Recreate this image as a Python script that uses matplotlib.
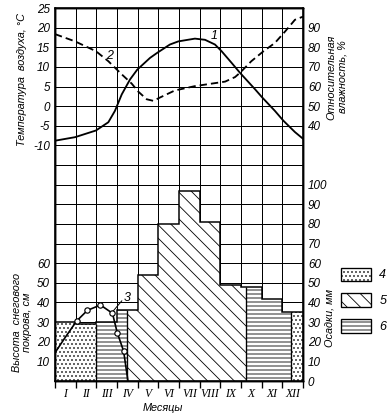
import numpy as np
import matplotlib
matplotlib.use('Agg')
from matplotlib import pyplot as plt
from matplotlib.patches import Patch

plt.rcParams['axes.unicode_minus'] = False
plt.rcParams['hatch.linewidth'] = 0.5
plt.rcParams['font.family'] = ['Liberation Sans', 'DejaVu Sans']
plt.rcParams['font.style'] = 'italic'
plt.rcParams['font.size'] = 7

months = ['I', 'II', 'III', 'IV', 'V', 'VI', 'VII', 'VIII', 'IX', 'X', 'XI', 'XII']

# precipitation per month, mm, and shares of solid / mixed / liquid
precip = [30, 29, 30, 36, 54, 80, 97, 81, 49, 48, 42, 35]
snow_part = [1, 1, 0, 0, 0, 0, 0, 0, 0, 0, 0, 0.58]
mixed_part = [0, 0, 1, 0.48, 0, 0, 0, 0, 0, 0.75, 1, 0.42]
rain_part = [0, 0, 0, 0.52, 1, 1, 1, 1, 1, 0.25, 0, 0]

# 1 - air temperature, C (x in months from start of January)
temp_x = [0.0, 0.97, 1.98, 2.58, 2.9, 3.23, 3.63, 3.98, 4.6, 4.95, 5.56, 5.97,
          6.77, 7.26, 7.74, 8.06, 8.55, 8.95, 9.68, 10.03, 10.64, 11.05, 11.61, 12.0]
temp_y = [-8.8, -7.9, -6.2, -4.1, -1.2, 3.0, 6.8, 9.3, 12.3, 13.6, 15.7, 16.5,
          17.2, 16.9, 15.7, 14.0, 11.0, 8.5, 4.3, 2.2, -1.2, -3.7, -6.6, -8.3]

# 2 - relative humidity, %
hum_x = [0.0, 0.97, 1.98, 2.58, 3.23, 3.71, 4.03, 4.44, 4.76, 5.08, 5.8,
         6.77, 8.23, 8.71, 8.95, 9.5, 10.08, 10.64, 11.13, 11.61, 12.0]
hum_y = [86.7, 83, 78, 72.9, 66.2, 61.5, 57.4, 53.5, 52.7, 54.4, 58,
         60.2, 62.5, 64.8, 67, 72.9, 77.9, 82.2, 88, 94, 95.6]

# 3 - snow depth, cm
snow_x = [0.0, 0.48, 1.05, 1.57, 2.2, 2.78, 3.01, 3.32, 3.53]
snow_y = [14.4, 22, 30.6, 36, 38.7, 34.5, 24.7, 15.2, 0]

fig = plt.figure(figsize=(388 / 120, 417 / 120), dpi=120)
ax = fig.add_axes([55 / 388, 36 / 417, 248 / 388, 373 / 417])
ax_s = ax.twinx()
ax_t = ax.twinx()
ax_h = ax.twinx()

# bars
styles = {'snow': '.....', 'mixed': '-----', 'rain': '\\\\\\'}
parts = {'snow': snow_part, 'mixed': mixed_part, 'rain': rain_part}
segs = {k: ([], [], []) for k in styles}
bounds = []
prev = None
prev_h = 0
for i in range(12):
    order = ['snow', 'mixed', 'rain'] if i < 6 else ['rain', 'mixed', 'snow']
    left = i
    for kind in order:
        w = parts[kind][i]
        if w <= 0:
            continue
        segs[kind][0].append(left)
        segs[kind][1].append(w)
        segs[kind][2].append(precip[i])
        if prev is not None and prev != kind:
            bounds.append((left, min(prev_h, precip[i])))
        prev, prev_h = kind, precip[i]
        left += w

for kind, (lefts, widths, heights) in segs.items():
    ax.bar(lefts, heights, widths, align='edge', facecolor='white', edgecolor='k',
           linewidth=0, hatch=styles[kind], zorder=2)
for bx, bh in bounds:
    ax.vlines(bx, 0, bh, color='k', lw=0.8, zorder=3)
ax.stairs(precip, np.arange(13), baseline=None, color='k', lw=0.9, zorder=3)

ax.set_xlim(0, 12)
ax.set_ylim(0, 190)
ax.set_xticks(np.arange(13))
ax.set_xticklabels([])
ax.set_xticks(np.arange(12) + 0.5, minor=True)
ax.set_xticklabels(months, minor=True, fontfamily='Liberation Serif', fontsize=7)
ax.tick_params(axis='x', which='major', length=4, width=0.8, direction='out')
ax.tick_params(axis='x', which='minor', length=0, pad=4)
ax.set_yticks(np.arange(0, 101, 10))
ax.set_yticks(np.arange(0, 191, 10), minor=True)
ax.yaxis.tick_right()
ax.tick_params(axis='y', which='both', length=0, pad=3)
ax.set_axisbelow(True)
ax.grid(axis='x', which='major', color='k', lw=0.6)
ax.grid(axis='y', which='both', color='k', lw=0.6)
for s in ax.spines.values():
    s.set_linewidth(0.9)

# snow depth
ax_s.set_ylim(0, 190)
ax_s.yaxis.tick_left()
ax_s.set_yticks(np.arange(10, 61, 10))
ax_s.tick_params(axis='y', length=0, pad=3)
ax_s.plot(snow_x, snow_y, color='k', lw=1.0, marker='o', mfc='white', mec='k',
          ms=3.2, mew=0.7, markevery=[2, 3, 4, 5, 6, 7])
ax_s.plot([3.23, 2.82], [40.8, 35.7], color='k', lw=0.6)
ax_s.text(3.5, 42.5, '3', ha='center', va='center', fontsize=7.5)

# temperature
ax_t.set_ylim(-70, 25)
ax_t.yaxis.tick_left()
ax_t.set_yticks(np.arange(-10, 26, 5))
ax_t.tick_params(axis='y', length=0, pad=3)
ax_t.plot(temp_x, temp_y, color='k', lw=1.1)
ax_t.text(7.7, 17.9, '1', ha='center', va='center', fontsize=7.5)
ax_t.text(2.66, 12.9, '2', ha='center', va='center', fontsize=7.5)

# humidity
ax_h.set_ylim(-90, 100)
ax_h.set_yticks(np.arange(40, 91, 10))
ax_h.tick_params(axis='y', length=0, pad=3)
ax_h.plot(hum_x, hum_y, color='k', lw=1.1, dashes=(4, 2.2))

fig.text(22 / 388, 1 - 80 / 417, 'Температура  воздуха, °С', rotation=90,
         ha='center', va='center', fontsize=6.5)
fig.text(22 / 388, 1 - 322 / 417, 'Высота  снегового\nпокрова, см', rotation=90,
         ha='center', va='center', fontsize=6.5, linespacing=1.1)
fig.text(337 / 388, 1 - 77 / 417, 'Относительная\nвлажность, %', rotation=90,
         ha='center', va='center', fontsize=6.5, linespacing=1.1)
fig.text(329 / 388, 1 - 318 / 417, 'Осадки, мм', rotation=90,
         ha='center', va='center', fontsize=6.5)
fig.text(163 / 388, 1 - 408 / 417, 'Месяцы', ha='center', va='center', fontsize=6.5)

handles = [Patch(facecolor='white', edgecolor='k', hatch=styles[k], linewidth=0.8)
           for k in ['snow', 'rain', 'mixed']]
fig.legend(handles, ['4', '5', '6'], loc='upper left',
           bbox_to_anchor=(338 / 388, 1 - 265 / 417), frameon=False,
           handlelength=2.4, handleheight=1.3, labelspacing=0.95,
           handletextpad=0.7, borderpad=0.2, borderaxespad=0, fontsize=7.5)

fig.savefig('out.png', dpi=120)
